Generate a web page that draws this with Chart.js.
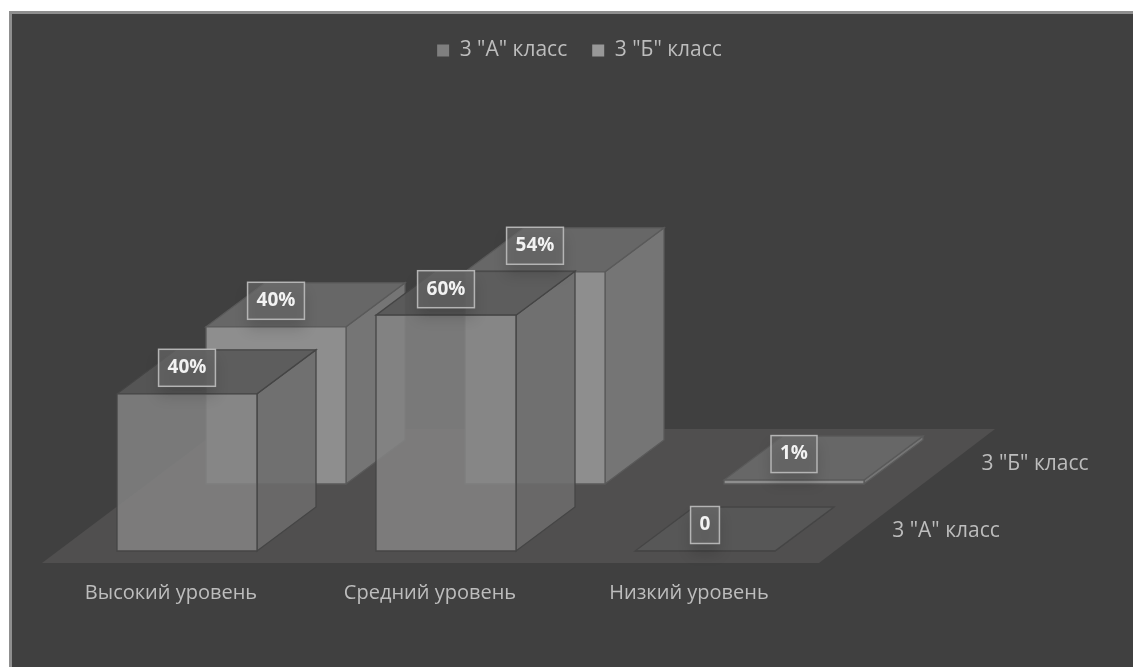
<!DOCTYPE html>
<html>
<head>
<meta charset="utf-8">
<script src="https://cdn.jsdelivr.net/npm/chart.js@4"></script>
<style>
  html, body { margin: 0; padding: 0; background: #fff; overflow: hidden; }
  #frame { position: absolute; left: 9px; top: 11px; width: 1124px; height: 656px; box-sizing: border-box;
           background: #404040; border-left: 3px solid #8f8f8f; border-top: 3px solid #8f8f8f; }
  #chart { position: absolute; left: 0; top: 0; filter: blur(0.5px); }
</style>
</head>
<body>
<div id="frame"></div>
<canvas id="chart" width="1133" height="667"></canvas>
<script>
const categories = ["Высокий уровень", "Средний уровень", "Низкий уровень"];
const seriesNames = ['3 "А" класс', '3 "Б" класс'];
const classA = [40, 60, 0];
const classB = [40, 54, 1];

// how the 3d look is faked, all in pixels
const seriesShift = [{ x: 0, y: 0 }, { x: 89, y: -67 }];
const depth = { x: 59, y: -44 };

const faceColors = [
  { front: "rgba(132,132,132,0.84)", side: "rgba(108,108,108,0.88)", top: "rgba(88,88,88,0.9)", line: "#454545" },
  { front: "#8e8e8e", side: "#757575", top: "#676767", line: "#5a5a5a" },
];

function poly(ctx, pts, fill, line) {
  ctx.beginPath();
  pts.forEach((p, i) => (i ? ctx.lineTo(p[0], p[1]) : ctx.moveTo(p[0], p[1])));
  ctx.closePath();
  ctx.fillStyle = fill;
  ctx.fill();
  if (line) {
    ctx.strokeStyle = line;
    ctx.lineWidth = 1.3;
    ctx.stroke();
  }
}

function drawBox(ctx, bar, shift, c) {
  const l = bar.x - bar.width / 2 + shift.x;
  const r = bar.x + bar.width / 2 + shift.x;
  const t = bar.y + shift.y;
  const b = bar.base + shift.y;
  poly(ctx, [[r, t], [r + depth.x, t + depth.y], [r + depth.x, b + depth.y], [r, b]], c.side, c.line);
  poly(ctx, [[l, t], [r, t], [r + depth.x, t + depth.y], [l + depth.x, t + depth.y]], c.top, c.line);
  poly(ctx, [[l, t], [r, t], [r, b], [l, b]], c.front, c.line);
}

function drawValueBox(ctx, bar, shift, value) {
  const text = value === 0 ? "0" : value + "%";
  ctx.font = "bold 19px 'Open Sans'";
  const w = ctx.measureText(text).width + 18;
  const h = 37;
  const cx = bar.x + shift.x;
  const cy = bar.y + shift.y - 26;
  ctx.save();
  ctx.shadowColor = "rgba(0,0,0,0.25)";
  ctx.shadowBlur = 14;
  ctx.shadowOffsetY = 10;
  ctx.fillStyle = "rgba(108,108,108,0.6)";
  ctx.fillRect(cx - w / 2, cy - h / 2, w, h);
  ctx.restore();
  ctx.strokeStyle = "#b4b4b4";
  ctx.lineWidth = 1.5;
  ctx.strokeRect(cx - w / 2, cy - h / 2, w, h);
  ctx.fillStyle = "#f2f2f2";
  ctx.textAlign = "center";
  ctx.textBaseline = "middle";
  ctx.fillText(text, cx, cy);
}

const fake3d = {
  id: "fake3d",
  afterLayout(chart) {
    // legend sits right of the canvas centre in the original
    chart.legend.left += 133.5;
    chart.legend.right += 133.5;
    chart.legend.top = 15;
    chart.legend.bottom = 70;
  },
  beforeDatasetsDraw(chart) {
    const ctx = chart.ctx;
    // floor
    poly(ctx, [[42, 563], [819, 563], [995, 429], [220, 429]], "#504f4f");
    ctx.save();
    // back series first so the front one covers it
    [1, 0].forEach((i) => {
      chart.getDatasetMeta(i).data.forEach((bar) => {
        drawBox(ctx, bar, seriesShift[i], faceColors[i]);
      });
    });
    [1, 0].forEach((i) => {
      const values = chart.data.datasets[i].data;
      chart.getDatasetMeta(i).data.forEach((bar, j) => {
        drawValueBox(ctx, bar, seriesShift[i], values[j]);
      });
    });
    // series names along the depth axis
    ctx.font = "21px 'Open Sans'";
    ctx.fillStyle = "#bdbdbd";
    ctx.textAlign = "center";
    ctx.textBaseline = "middle";
    const base = chart.scales.y.getPixelForValue(0);
    seriesNames.forEach((name, i) => {
      ctx.fillText(name, 946 + seriesShift[i].x, base - 20 + seriesShift[i].y);
    });
    ctx.restore();
    return false; // the native flat bars are not drawn
  },
};

new Chart(document.getElementById("chart"), {
  type: "bar",
  data: {
    labels: categories,
    datasets: [
      { label: seriesNames[0], data: classA, backgroundColor: "#7f7f7f", borderWidth: 0 },
      { label: seriesNames[1], data: classB, backgroundColor: "#989898", borderWidth: 0 },
    ],
  },
  plugins: [fake3d],
  options: {
    responsive: false,
    animation: false,
    layout: { padding: { left: 57.5, right: 298.5, top: 102, bottom: 32 } },
    datasets: { bar: { grouped: false, barThickness: 140 } },
    scales: {
      x: {
        grid: { display: false, drawTicks: false },
        border: { display: false },
        ticks: {
          color: "#bdbdbd",
          padding: 30,
          labelOffset: -16,
          maxRotation: 0,
          autoSkip: false,
          font: { family: "'Open Sans'", size: 20 },
        },
      },
      y: { display: false, min: 0, max: 100 },
    },
    plugins: {
      tooltip: { enabled: false },
      legend: {
        position: "top",
        labels: {
          color: "#bdbdbd",
          usePointStyle: true,
          pointStyle: "rect",
          boxWidth: 12,
          boxHeight: 12,
          padding: 25,
          font: { family: "'Open Sans'", size: 21 },
        },
      },
    },
  },
});
</script>
</body>
</html>
